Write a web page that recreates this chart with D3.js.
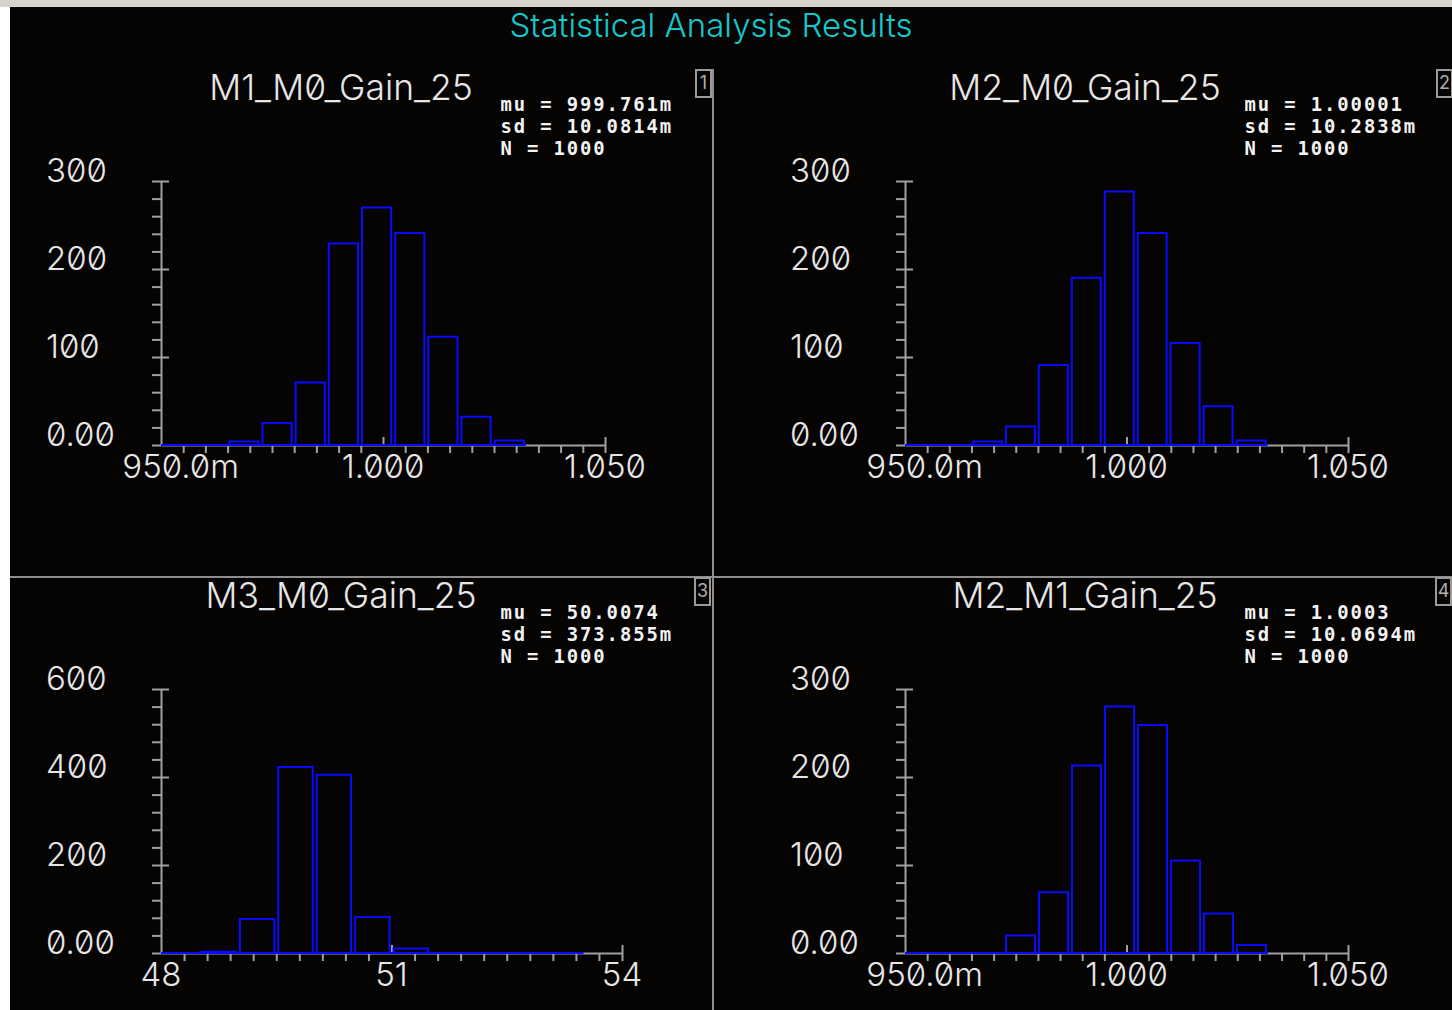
<!DOCTYPE html>
<html>
<head>
<meta charset="utf-8">
<script src="https://cdn.jsdelivr.net/npm/d3@7"></script>
<style>
body { margin: 0; background: #fff; }
svg text {
    font-family: Inter, "DejaVu Sans", sans-serif;
    font-variant-numeric: slashed-zero;
    font-feature-settings: "zero" 1;
}
.axis path, .axis line { stroke: #a0a0a0; stroke-width: 2; fill: none; }
.tick-label { fill: #e6e6e6; font-size: 33px; font-weight: 300; }
.panel-title { fill: #e6e6e6; font-size: 35.5px; font-weight: 300; }
svg text.stats {
    fill: #f2f2f2; font-size: 18.9px; font-weight: bold;
    font-family: "DejaVu Sans Mono", monospace; letter-spacing: 1.9px;
}
.bar { fill: none; stroke: #0a0aff; stroke-width: 2; }
</style>
</head>
<body>
<svg id="chart" width="1452" height="1010"></svg>
<script>
// values
const mainTitle = "Statistical Analysis Results";
const titles = ["M1_M0_Gain_25", "M2_M0_Gain_25", "M3_M0_Gain_25", "M2_M1_Gain_25"];
const muLabels = ["999.761m", "1.00001", "50.0074", "1.0003"];
const sdLabels = ["10.0814m", "10.2838m", "373.855m", "10.0694m"];
const nLabels = ["1000", "1000", "1000", "1000"];

const counts1 = [0, 0, 4, 25, 71, 229, 270, 241, 123, 32, 5];
const counts2 = [0, 0, 4, 21, 91, 190, 288, 241, 116, 44, 5];
const counts3 = [0, 3, 77, 423, 405, 82, 10, 0, 0, 0, 0];
const counts4 = [0, 0, 0, 20, 69, 213, 280, 259, 105, 45, 9];
const allCounts = [counts1, counts2, counts3, counts4];

const binStarts = [0.95, 0.95, 48, 0.95];
const binWidths = [0.00747, 0.00744, 0.5, 0.00745];

const xDomains = [[0.95, 1.05], [0.95, 1.05], [48, 54], [0.95, 1.05]];
const xMajor = [[0.95, 1.0, 1.05], [0.95, 1.0, 1.05], [48, 51, 54], [0.95, 1.0, 1.05]];
const xLabels = [["950.0m", "1.000", "1.050"], ["950.0m", "1.000", "1.050"], ["48", "51", "54"], ["950.0m", "1.000", "1.050"]];
const xMinorStep = [0.005, 0.005, 0.3, 0.005];

const yMax = [300, 300, 600, 300];
const yMajor = [[0, 100, 200, 300], [0, 100, 200, 300], [0, 200, 400, 600], [0, 100, 200, 300]];
const yLabels = [["0.00", "100", "200", "300"], ["0.00", "100", "200", "300"], ["0.00", "200", "400", "600"], ["0.00", "100", "200", "300"]];
const yMinorStep = [20, 20, 40, 20];

// layout
const axisX = [161, 905, 161, 905];
const baseY = [445, 445, 953, 953];
const axisW = [444, 443, 461, 443];
const panelTop = [69, 69, 577, 577];
const boxX = [696, 1437, 695, 1436];
const plotH = 264;

const svg = d3.select("#chart");

// window chrome + background
svg.append("rect").attr("width", 1452).attr("height", 1010).attr("fill", "#ffffff");
svg.append("rect").attr("x", 0).attr("y", 0).attr("width", 1452).attr("height", 7).attr("fill", "#d6d3cc");
svg.append("rect").attr("x", 10).attr("y", 7).attr("width", 1442).attr("height", 1003).attr("fill", "#060303");

svg.append("text")
    .attr("x", 711).attr("y", 37)
    .attr("text-anchor", "middle")
    .attr("fill", "#14c8cc")
    .style("font-size", "33px")
    .style("font-weight", 300)
    .text(mainTitle);

// dividers
svg.append("line").attr("x1", 713).attr("x2", 713).attr("y1", 69).attr("y2", 1010)
    .attr("stroke", "#8e8e8e").attr("stroke-width", 2);
svg.append("line").attr("x1", 10).attr("x2", 1452).attr("y1", 577).attr("y2", 577)
    .attr("stroke", "#8e8e8e").attr("stroke-width", 2);

function drawPanel(i) {
    const x = d3.scaleLinear().domain(xDomains[i]).range([axisX[i], axisX[i] + axisW[i]]);
    const y = d3.scaleLinear().domain([0, yMax[i]]).range([baseY[i], baseY[i] - plotH]);
    const g = svg.append("g");

    // y axis: minor ticks on the left, major ticks on both sides
    const yMinor = d3.range(0, yMax[i] + 1e-9, yMinorStep[i]);
    g.append("g").attr("class", "axis")
        .attr("transform", `translate(${axisX[i]},0)`)
        .call(d3.axisLeft(y).tickValues(yMinor).tickSize(9).tickSizeOuter(0).tickFormat(""));
    g.append("g").attr("class", "axis")
        .attr("transform", `translate(${axisX[i]},0)`)
        .call(d3.axisRight(y).tickValues(yMajor[i].slice(1)).tickSize(8).tickSizeOuter(0).tickFormat(""))
        .select(".domain").remove();

    g.selectAll(".ylab").data(yMajor[i]).enter().append("text")
        .attr("class", "tick-label")
        .attr("x", axisX[i] - 115)
        .attr("y", d => y(d) + 1)
        .text((d, k) => yLabels[i][k]);

    // x axis: minor ticks down, major ticks up
    const [d0, d1] = xDomains[i];
    const xMinor = d3.range(d0, d1 + xMinorStep[i] / 2, xMinorStep[i])
        .filter(v => Math.abs(v - xMajor[i][0]) > 1e-6 && Math.abs(v - xMajor[i][1]) > 1e-6);
    g.append("g").attr("class", "axis")
        .attr("transform", `translate(0,${baseY[i]})`)
        .call(d3.axisBottom(x).tickValues(xMinor).tickSize(8).tickSizeOuter(0).tickFormat(""));
    g.append("g").attr("class", "axis")
        .attr("transform", `translate(0,${baseY[i]})`)
        .call(d3.axisTop(x).tickValues(xMajor[i].slice(1)).tickSize(8).tickSizeOuter(0).tickFormat(""))
        .select(".domain").remove();

    g.selectAll(".xlab").data(xMajor[i]).enter().append("text")
        .attr("class", "tick-label")
        .attr("x", d => x(d))
        .attr("y", baseY[i] + 33)
        .attr("text-anchor", "middle")
        .text((d, k) => xLabels[i][k])
        .each(function(d, k) {
            // centre the number, let the unit suffix hang to the right
            const lab = xLabels[i][k];
            if (/m$/.test(lab)) {
                const full = this.getComputedTextLength();
                const unit = this.getSubStringLength(lab.length - 1, 1);
                d3.select(this).attr("dx", unit / 2 + (full - unit) * 0.06);
            }
        });

    // histogram
    const counts = allCounts[i];
    const bw = binWidths[i], bs = binStarts[i];
    g.append("line")
        .attr("x1", x(bs)).attr("x2", x(bs + bw * counts.length))
        .attr("y1", baseY[i]).attr("y2", baseY[i])
        .attr("stroke", "#0a0aff").attr("stroke-width", 2);
    g.selectAll(".bar").data(counts).enter().append("path")
        .attr("class", "bar")
        .attr("d", (c, k) => {
            const x0 = x(bs + k * bw) + 2, x1 = x(bs + (k + 1) * bw) - 2;
            const top = y(c);
            return `M${x0},${baseY[i]}V${top}H${x1}V${baseY[i]}Z`;
        });

    // titles and stats
    g.append("text").attr("class", "panel-title")
        .attr("x", axisX[i] + 180).attr("y", panelTop[i] + 31)
        .attr("text-anchor", "middle")
        .text(titles[i]);

    const lines = ["mu = " + muLabels[i], "sd = " + sdLabels[i], "N = " + nLabels[i]];
    const st = g.selectAll(".stats").data(lines).enter().append("text")
        .attr("class", "stats")
        .attr("y", (d, k) => panelTop[i] + 42 + k * 22)
        .text(d => d);
    let maxW = 0;
    st.each(function() { maxW = Math.max(maxW, this.getComputedTextLength()); });
    st.attr("x", axisX[i] + 512 - maxW);

    // panel number box
    g.append("rect")
        .attr("x", boxX[i]).attr("y", panelTop[i] + 1)
        .attr("width", 15).attr("height", 27)
        .attr("fill", "none").attr("stroke", "#9a9a9a").attr("stroke-width", 2);
    g.append("text")
        .attr("x", boxX[i] + 7.5).attr("y", panelTop[i] + 20)
        .attr("text-anchor", "middle")
        .attr("fill", "#b0b0b0")
        .style("font-size", "18px")
        .text(String(i + 1));
}

[0, 1, 2, 3].forEach(drawPanel);
</script>
</body>
</html>
